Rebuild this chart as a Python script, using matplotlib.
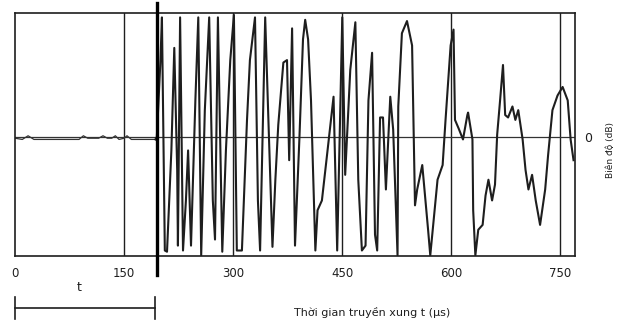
import matplotlib
matplotlib.use("Agg")
import matplotlib.pyplot as plt
import matplotlib.transforms as mtransforms

# quiet part before the pulse arrives (t in us, amplitude in % of full scale)
noise_t = [0, 10, 18, 26, 60, 88, 94, 100, 115, 121, 127, 133, 138, 143, 150, 154, 160, 175, 193]
noise_a = [-1, -2, 1, -2, -2, -2, 1, -1, -1, 1, -1, -1, 1, -2, -1, 1, -2, -2, -2]

# received pulse, read peak to peak off the trace
pulse_t = [193, 195, 200, 202, 206, 209, 215, 219, 223, 224, 227, 231, 235, 238, 242,
           248, 252, 256, 261, 267, 272, 275, 279, 285, 290, 296, 301, 305, 312, 319,
           323, 330, 334, 337, 344, 348, 354, 358, 362, 369, 374, 377, 381, 385, 391,
           396, 399, 403, 407, 413, 416, 422, 429, 438, 443, 450, 454, 461, 468, 472,
           477, 482, 486, 491, 495, 498, 502, 506, 510, 516, 520, 526, 527, 532, 539,
           546, 550, 553, 560, 568, 571, 581, 588, 592, 599, 603, 605, 610, 616, 622,
           623, 629, 630, 633, 637, 643, 647, 651, 656, 660, 663, 667, 671, 674, 678,
           684, 688, 692, 698, 702, 706, 711, 716, 722, 729, 733, 739, 746, 753, 760,
           764, 768]
pulse_a = [-2, 0, 63, 98, -93, -94, -11, 73, -27, -89, 98, -93, -52, -11, -89,
           30, 98, -97, 22, 98, -52, -84, 98, -94, -11, 63, 100, -93, -93, 14,
           63, 98, -52, -93, 98, 22, -90, -35, 10, 61, 63, -19, 89, -89, -2,
           80, 96, 80, 30, -93, -60, -52, -15, 33, -93, 98, -31, 55, 94, -35,
           -93, -89, 30, 69, -80, -93, 16, 16, -43, 33, 6, -97, 25, 85, 95,
           75, -56, -43, -23, -76, -97, -35, -23, 14, 75, 88, 14, 7, -2, 18,
           20, -2, -60, -97, -76, -72, -48, -35, -52, -39, 2, 30, 59, 18, 16,
           25, 14, 22, -2, -27, -43, -31, -52, -72, -43, -15, 22, 34, 41, 30,
           -2, -19]

xticks = [0, 150, 300, 450, 600, 750]
t_arrival = 195

fig = plt.figure(figsize=(6.18, 3.24), dpi=100)
ax = fig.add_axes([0.0243, 0.2099, 0.9061, 0.75])

ink = "#1e1e1e"
for x in xticks[1:]:
    ax.axvline(x, color=ink, lw=1.0, zorder=1)
ax.axhline(0, color="#333333", lw=0.9, zorder=1)

ax.plot(noise_t, noise_a, color="#333333", lw=0.9, zorder=2)
ax.plot(pulse_t, pulse_a, color=ink, lw=1.5, zorder=3)

ax.set_xlim(0, 770)
ax.set_ylim(-97.5, 101.6)
ax.set_xticks(xticks)
ax.set_xticklabels([str(x) for x in xticks], fontsize=8.5, color=ink)
ax.set_yticks([])
ax.tick_params(axis="x", length=0, pad=8)
for s in ax.spines.values():
    s.set_color(ink)
    s.set_linewidth(1.2)

# arrival marker and scale bar under the axis
trans = mtransforms.blended_transform_factory(ax.transData, ax.transAxes)
ax.plot([t_arrival, t_arrival], [1.041, -0.078], color="black", lw=2.4,
        transform=trans, clip_on=False, zorder=4)
ax.plot([0, t_arrival - 2], [-0.214, -0.214], color=ink, lw=1.2, transform=trans, clip_on=False)
for x in [0, t_arrival - 2]:
    ax.plot([x, x], [-0.17, -0.26], color=ink, lw=1.2, transform=trans, clip_on=False)
ax.text(88, -0.155, "t", transform=trans, ha="center", va="bottom", fontsize=9, color=ink)

fig.text(372 / 618, 1 - 312 / 324, "Thời gian truyền xung t (µs)", ha="center", va="center",
         fontsize=8, color=ink)
fig.text(588 / 618, 1 - 138 / 324, "0", ha="center", va="center", fontsize=9, color=ink)
fig.text(610 / 618, 1 - 150 / 324, "Biên độ (dB)", ha="center", va="center", rotation=90,
         fontsize=6.5, color=ink)

fig.savefig("out.png", dpi=100, facecolor="white")
